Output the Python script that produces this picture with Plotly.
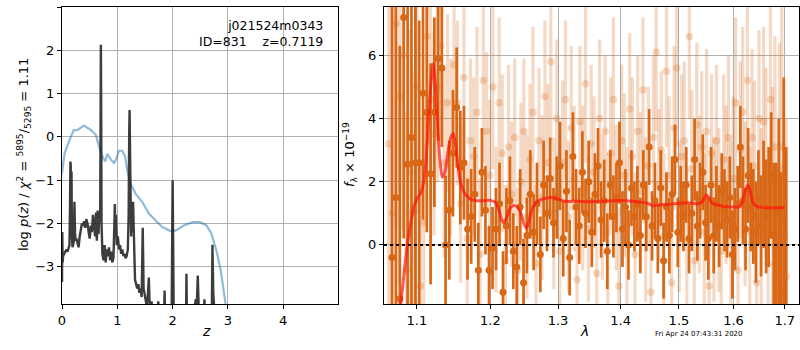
import plotly.graph_objects as go

# ---------------- left panel: redshift PDF ----------------
z_prior = [0.0, 0.047, 0.137, 0.209, 0.28, 0.40, 0.52, 0.61, 0.67, 0.73, 0.78, 0.82, 0.88, 0.94,
           0.98, 1.03, 1.09, 1.14, 1.18, 1.24, 1.33, 1.45, 1.57, 1.69, 1.81, 1.97, 2.06, 2.21,
           2.37, 2.49, 2.61, 2.70, 2.79, 2.87, 2.93, 2.97, 3.05, 3.2]
v_prior = [-0.84, -0.38, -0.07, 0.15, 0.16, 0.26, 0.16, 0.05, -0.22, -0.45, -0.57, -0.39, -0.52,
           -0.60, -0.51, -0.32, -0.32, -0.45, -0.77, -1.08, -1.31, -1.50, -1.77, -1.93, -2.08,
           -2.18, -2.16, -2.04, -1.97, -1.97, -2.04, -2.23, -2.62, -3.08, -3.55, -3.87, -4.6, -6.0]

z_pdf = [0.000, 0.005, 0.012, 0.02, 0.04, 0.06, 0.08, 0.10, 0.12, 0.135, 0.145, 0.152, 0.158, 0.165,
         0.172, 0.18, 0.19, 0.20, 0.215, 0.225, 0.235, 0.245, 0.26, 0.28, 0.30, 0.32, 0.34, 0.36,
         0.38, 0.40, 0.42, 0.44, 0.46, 0.48, 0.50, 0.52, 0.54, 0.56, 0.58, 0.60, 0.615, 0.63, 0.645,
         0.66, 0.675, 0.69, 0.698, 0.703, 0.708, 0.715, 0.73, 0.75, 0.77, 0.79, 0.81, 0.83, 0.85,
         0.87, 0.89, 0.91, 0.93, 0.945, 0.955, 0.965, 0.975, 0.99, 1.01, 1.03, 1.05, 1.07, 1.09,
         1.11, 1.13, 1.15, 1.17, 1.19, 1.205, 1.215, 1.222, 1.23, 1.24, 1.25, 1.262, 1.272, 1.285,
         1.30, 1.32, 1.34, 1.36, 1.38, 1.40, 1.42, 1.44, 1.46, 1.475, 1.49, 1.51, 1.53, 1.55, 1.57,
         1.585, 1.60, 1.62, 1.64, 1.66, 1.68, 1.70, 1.72, 1.74, 1.76, 1.80, 1.84, 1.855, 1.87, 1.92,
         1.98, 1.99, 2.00, 2.01, 2.02, 2.08, 2.18, 2.24, 2.25, 2.26, 2.32, 2.38, 2.40, 2.42, 2.43,
         2.455, 2.47, 2.50, 2.56, 2.575, 2.59, 2.66, 2.71, 2.72, 2.735, 2.76, 2.85, 3.0]
v_pdf = [-3.35, -2.2, -2.9, -2.75, -2.7, -2.65, -2.6, -2.65, -2.55, -2.5, -1.6, -0.57, -0.65, -2.0,
         -0.8, -2.3, -2.55, -2.5, -2.4, -1.5, -2.2, -2.4, -2.35, -2.45, -2.55, -2.3, -2.1, -2.0,
         -2.05, -1.95, -2.1, -1.9, -2.0, -2.2, -2.35, -2.05, -2.2, -1.8, -2.15, -2.3, -1.75, -2.4, -1.7,
         -2.25, -1.8, -1.9, 0.5, 2.13, 0.8, -2.0, -2.7, -2.85, -2.5, -2.9, -2.6, -2.75, -2.55,
         -2.85, -2.65, -2.9, -2.8, -2.1, -1.55, -2.3, -1.8, -2.5, -2.3, -2.6, -2.5, -2.7, -2.6,
         -2.75, -2.7, -2.8, -2.75, -2.6, -1.8, 0.1, 0.62, -0.3, -1.6, -2.3, -1.55, -2.2, -1.5,
         -2.6, -3.3, -3.4, -3.5, -3.4, -3.6, -3.5, -3.7, -2.1, -3.5, -3.6, -3.75, -3.9, -3.7, -3.25,
         -3.9, -4.1, -3.8, -4.3, -4.0, -4.5, -4.1, -4.3, -3.8, -4.6, -5.0, -4.5, -3.55, -4.5, -5.2,
         -4.5, -2.5, -1.0, -2.5, -4.2, -5.5, -5.8, -4.6, -3.16, -4.5, -5.0, -4.5, -3.9, -3.75, -4.2,
         -3.2, -3.9, -4.5, -4.2, -3.75, -4.3, -5.0, -3.9, -2.49, -3.6, -4.5, -6.0, -7.0]

# ---------------- right panel: spectrum ----------------
dark_lam0, dark_step = 1.068, 0.005
dark_flux = [-0.4, 1.5, -1.7, 7.2, 2.55, 3.4, 2.6, 2.6, 4.8, 4.2,
             2.25, 4.2, 5.9, 5.6, 0.0, 1.1, 2.9, 4.35, 2.45, 2.6,
             0.5, 0.9, 1.6, -0.8, 2.3, 1.1, -0.8, -0.1, 0.5, 1.3,
             -1.5, 0.6, 1.4, -0.2, -0.7, 1.2, -1.2, 0.3, 1.6, 0.4,
             1.3, -0.3, 1.9, 1.0, 2.1, 0.7, 1.5, 2.5, 0.2, 1.7,
             -0.4, 2.8, 1.2, 0.6, 2.3, 1.0, 2.0, 0.4, 1.6, 2.5,
             0.8, 1.4, -0.2, 1.9, 0.9, 1.5, 2.6, 0.5, 1.2, 0.0,
             1.8, 0.9, 1.3, 0.3, 1.9, 0.9, 3.1, 0.6, 1.4, 0.2,
             1.8, -0.5, 1.2, 0.3, 1.6, 2.7, 0.4, 1.3, 0.9, 1.9,
             0.2, 1.0, 2.7, 0.6, 1.4, 2.3, 0.7, 0.2, 1.9, 0.3,
             1.3, 0.6, 1.7, 1.1, 0.8, 1.5, -0.3, 0.5, 1.3, 3.1,
             1.4, 0.5, 2.2, 1.2, 0.9, 0.4, 1.5, 0.6, 1.6, 0.9,
             1.2, 2.2, 0.3, 0.0, 1.0, -1.5, 0.8, -2.2]
dark_err = [8, 8, 8, 7, 6, 5.5, 5, 4.5, 4, 3.8,
            3.5, 3, 2.6, 2.5, 2.2, 2.2, 2, 1.9, 1.8, 1.8,
            1.6, 1.5, 1.5, 1.5, 1.4, 1.4, 1.4, 1.3, 1.3, 1.3,
            1.3, 1.2, 1.4, 1.2, 1.3, 1.2, 1.4, 1.2, 1.4, 1.2,
            1.3, 1.2, 1.4, 1.2, 1.3, 1.1, 1.3, 1.4, 1.2, 1.3,
            1.2, 1.4, 1.2, 1.2, 1.3, 1.1, 1.3, 1.1, 1.3, 1.2,
            1.2, 1.3, 1.2, 1.1, 1.3, 1.1, 1.3, 1.2, 1.2, 1.1,
            1.2, 1.1, 1.2, 1.2, 1.1, 1.1, 1.2, 1.1, 1.2, 1.1,
            1.2, 1.2, 1.1, 1.2, 1.2, 1.1, 1.1, 1.2, 1.1, 1.2,
            1.1, 1.2, 1.3, 1.1, 1.2, 1.2, 1.2, 1.3, 1.2, 1.2,
            1.2, 1.3, 1.2, 1.3, 1.2, 1.3, 1.4, 1.3, 1.2, 1.3,
            1.4, 1.3, 1.5, 1.4, 1.5, 1.6, 1.5, 1.6, 1.7, 1.8,
            1.9, 2.0, 2.3, 2.6, 3.0, 3.8, 4.5, 5.3]

light_lam0, light_step = 1.064, 0.0045
light_flux = [3.2, 1.0, 7.0, 4.7, 6.0, -0.8, 2.3, 1.0, 5.0, -1.3,
              0.7, 6.6, 4.6, 3.5, 5.0, 6.3, 2.6, 4.5, 3.1, 5.7,
              4.5, 1.3, 5.3, 0.2, 3.3, 2.8, 4.2, -0.3, 5.2, 3.6,
              2.2, 5.0, 0.8, 4.5, 2.9, -0.5, 3.1, 1.6, 3.4, -0.8,
              2.0, 3.6, 0.9, 2.7, 4.2, -0.6, 3.3, 1.5, 4.7, 2.6,
              5.8, 1.0, 4.0, -0.2, 2.6, 4.6, 0.9, 3.7, 2.1, -1.1,
              3.9, 1.8, 5.1, 0.5, 3.2, 2.3, -0.9, 4.0, 1.2, 3.6,
              0.4, 2.9, 4.6, 1.5, -1.3, 3.3, 2.2, 0.6, 4.3, 2.8,
              -0.3, 3.6, 1.7, 4.9, 0.8, 2.5, -1.5, 3.4, 6.1, 1.9,
              3.0, 0.3, 5.5, 2.2, -1.2, 3.7, 5.6, 0.9, 2.8, 3.3,
              0.1, 6.6, 2.4, -0.5, 3.8, 1.6, 3.1, 0.4, 3.6, -1.3,
              2.9, 0.8, 3.3, 1.1, -0.2, 2.7, 1.9, 3.4, 0.6, 2.1,
              4.5, -0.8, 3.0, 4.2, 1.3, 5.2, 0.4, 3.4, 2.5, -1.2,
              4.0, 0.9, 3.9, 2.6, -0.6, 4.6, 1.5, 3.1, -1.5, 2.4, 3.1, 0.2, -1.0]
light_err = [7, 7, 6.5, 6, 5.5, 5, 4.5, 4.5, 4, 4,
             3.5, 3.5, 3.2, 3.2, 3, 3, 3, 2.8, 2.8, 2.8,
             2.6, 2.5, 2.7, 2.4, 2.6, 2.5, 2.7, 2.4, 2.6, 2.5,
             2.4, 2.6, 2.3, 2.7, 2.5, 2.4, 2.6, 2.3, 2.5, 2.6,
             2.5, 2.3, 2.6, 2.4, 2.7, 2.5, 2.3, 2.6, 2.4, 2.5,
             2.6, 2.4, 2.5, 2.3, 2.6, 2.5, 2.4, 2.6, 2.3, 2.5,
             2.4, 2.6, 2.5, 2.3, 2.5, 2.4, 2.6, 2.5, 2.3, 2.4,
             2.5, 2.4, 2.6, 2.3, 2.5, 2.4, 2.6, 2.5, 2.4, 2.5,
             2.6, 2.4, 2.5, 2.3, 2.6, 2.5, 2.4, 2.6, 2.5, 2.4,
             2.5, 2.6, 2.4, 2.5, 2.3, 2.6, 2.5, 2.4, 2.6, 2.5,
             2.4, 2.6, 2.5, 2.4, 2.6, 2.5, 2.4, 2.5, 2.6, 2.4,
             2.5, 2.6, 2.4, 2.6, 2.5, 2.7, 2.5, 2.6, 2.7, 2.6,
             2.7, 2.6, 2.8, 2.7, 2.6, 2.8, 2.7, 2.8, 2.7, 2.8,
             2.8, 2.8, 3, 3, 3.2, 3.2, 3.5, 3.5, 4, 4, 4.5, 5, 5]

model_lam = [1.075, 1.079, 1.083, 1.0875, 1.092, 1.096, 1.100, 1.105, 1.109, 1.112, 1.115, 1.118,
             1.1215, 1.124, 1.127, 1.130, 1.1334, 1.137, 1.141, 1.145, 1.1484, 1.152, 1.156, 1.160,
             1.165, 1.172, 1.18, 1.19, 1.20, 1.207, 1.212, 1.216, 1.219, 1.223, 1.228, 1.233, 1.239,
             1.244, 1.249, 1.2525, 1.256, 1.260, 1.265, 1.272, 1.28, 1.29, 1.30, 1.31, 1.33, 1.35,
             1.37, 1.39, 1.41, 1.43, 1.445, 1.455, 1.465, 1.48, 1.50, 1.52, 1.535, 1.543, 1.549,
             1.554, 1.56, 1.57, 1.58, 1.60, 1.612, 1.618, 1.623, 1.6275, 1.632, 1.637, 1.645, 1.66,
             1.68, 1.70]
model_flux = [-2.6, -1.9, -1.0, 0.0, 0.7, 1.2, 1.45, 1.65, 2.0, 2.7, 3.9, 5.0,
              5.75, 5.2, 3.9, 2.8, 2.15, 2.3, 2.9, 3.4, 3.53, 3.1, 2.3, 1.85,
              1.6, 1.45, 1.4, 1.4, 1.41, 1.35, 1.1, 0.8, 0.7, 0.85, 1.15, 1.25, 1.2,
              1.0, 0.65, 0.53, 0.75, 1.1, 1.3, 1.42, 1.47, 1.5, 1.45, 1.38, 1.38, 1.37,
              1.38, 1.4, 1.4, 1.36, 1.32, 1.24, 1.27, 1.28, 1.32, 1.33, 1.3, 1.38, 1.58,
              1.5, 1.32, 1.27, 1.22, 1.2, 1.2, 1.4, 1.75, 1.9, 1.7, 1.35, 1.22, 1.18,
              1.18, 1.18]

left_xticks = [0, 1, 2, 3, 4]
left_yticks = [-3, -2, -1, 0, 1, 2, 3]
right_xticks = [1.1, 1.2, 1.3, 1.4, 1.5, 1.6, 1.7]
right_yticks = [0, 2, 4, 6]

dark_lam = [round(dark_lam0 + dark_step * i, 4) for i in range(len(dark_flux))]
light_lam = [round(light_lam0 + light_step * i, 4) for i in range(len(light_flux))]

ORANGE = "rgb(216,103,22)"
ORANGE_L = "rgba(216,103,22,0.25)"

fig = go.Figure()

fig.add_trace(go.Scatter(x=z_prior, y=v_prior, mode="lines", xaxis="x", yaxis="y",
                         line=dict(color="rgba(31,119,180,0.5)", width=2.2), showlegend=False))
fig.add_trace(go.Scatter(x=z_pdf, y=v_pdf, mode="lines", xaxis="x", yaxis="y",
                         line=dict(color="rgba(40,40,40,0.9)", width=2.4), showlegend=False))

fig.add_trace(go.Scatter(x=light_lam, y=light_flux, mode="markers", xaxis="x2", yaxis="y2",
                         marker=dict(color=ORANGE_L, size=7.5, line=dict(width=0)),
                         error_y=dict(type="data", array=light_err, color=ORANGE_L, thickness=3.2, width=0),
                         showlegend=False))
fig.add_trace(go.Scatter(x=dark_lam, y=dark_flux, mode="markers", xaxis="x2", yaxis="y2",
                         marker=dict(color=ORANGE, size=7, line=dict(width=0)),
                         error_y=dict(type="data", array=dark_err, color=ORANGE, thickness=2.7, width=0),
                         showlegend=False))
fig.add_trace(go.Scatter(x=model_lam, y=model_flux, mode="lines", xaxis="x2", yaxis="y2",
                         line=dict(color="rgba(255,20,10,0.7)", width=3, shape="spline", smoothing=0.6),
                         showlegend=False))

W, H = 800, 350
def px(x): return x / W
def py(y): return 1 - y / H

axis_common = dict(showgrid=True, gridcolor="#b0b0b0", gridwidth=1, showline=True, mirror=True,
                   linecolor="black", linewidth=1, ticks="outside", ticklen=4, tickwidth=1,
                   tickcolor="black", zeroline=False, automargin=False,
                   tickfont=dict(family="DejaVu Sans", size=13, color="black"))

fig.update_layout(
    width=W, height=H, margin=dict(l=0, r=0, t=0, b=0),
    paper_bgcolor="white", plot_bgcolor="white",
    font=dict(family="DejaVu Sans", color="black"),
    xaxis=dict(domain=[px(62), px(338)], range=[0, 4.99], tickvals=left_xticks, anchor="y", **axis_common),
    yaxis=dict(domain=[py(304), py(7)], range=[-3.86, 3.0], tickvals=left_yticks, anchor="x", **axis_common),
    xaxis2=dict(domain=[px(384), px(799)], type="log", range=[0.02449, 0.23779],
                tickvals=right_xticks, ticktext=[str(t) for t in right_xticks], anchor="y2", **axis_common),
    yaxis2=dict(domain=[py(304), py(7)], range=[-1.87, 7.53], tickvals=right_yticks, anchor="x2", **axis_common),
)

fig.add_shape(type="line", xref="x2 domain", yref="y2", x0=0, x1=1, y0=0, y1=0,
              line=dict(color="black", width=2, dash="dot"), layer="above")

ann = [
    dict(x=px(325), y=py(16), text="j021524m0343<br>ID=831&nbsp;&nbsp;&nbsp;&nbsp;z=0.7119",
         xanchor="right", yanchor="top", align="right", font=dict(size=12.5)),
    dict(x=px(13), y=py(155), text="log <i>p</i>(<i>z</i>) / <i>χ</i><sup>2</sup> = <sup>5895</sup>/<sub>5295</sub> = 1.11",
         textangle=-90, font=dict(size=13)),
    dict(x=px(350), y=py(155), text="<i>f</i><sub>λ</sub> × 10<sup>−19</sup>", textangle=-90, font=dict(size=13)),
    dict(x=px(200), y=py(341), text="<i>z</i>", font=dict(size=14)),
    dict(x=px(591), y=py(341), text="<i>λ</i>", font=dict(size=14)),
    dict(x=px(745), y=py(340), text="Fri Apr 24 07:43:31 2020", font=dict(size=7)),
]
for a in ann:
    a.update(xref="paper", yref="paper", showarrow=False)
    fig.add_annotation(**a)

fig.write_html("out.html", config={"displayModeBar": False},
               post_script="document.body.style.margin='0';document.body.style.padding='0';")
